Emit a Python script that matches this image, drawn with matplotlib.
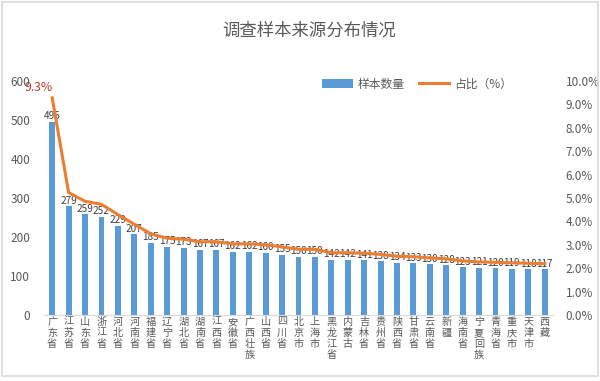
import matplotlib
matplotlib.use("Agg")
import matplotlib.pyplot as plt
from matplotlib.patches import Rectangle, Patch
from matplotlib.lines import Line2D
from matplotlib.ticker import FuncFormatter, MultipleLocator

plt.rcParams['font.family'] = ['Noto Sans CJK SC', 'DejaVu Sans']

categories = ["广东省", "江苏省", "山东省", "浙江省", "河北省", "河南省", "福建省", "辽宁省",
              "湖北省", "湖南省", "江西省", "安徽省", "广西壮族", "山西省", "四川省", "北京市",
              "上海市", "黑龙江省", "内蒙古", "吉林省", "贵州省", "陕西省", "甘肃省", "云南省",
              "新疆", "海南省", "宁夏回族", "青海省", "重庆市", "天津市", "西藏"]
counts = [495, 279, 259, 252, 229, 207, 185, 175, 173, 167, 167, 162, 162, 160, 155, 150,
          150, 142, 142, 141, 138, 134, 133, 130, 128, 123, 121, 120, 119, 118, 117]
share_pct = [9.28, 5.23, 4.86, 4.73, 4.29, 3.88, 3.47, 3.28, 3.24, 3.13, 3.13, 3.04, 3.04,
             3.00, 2.91, 2.81, 2.81, 2.66, 2.66, 2.64, 2.59, 2.51, 2.49, 2.44, 2.40, 2.31,
             2.27, 2.25, 2.23, 2.21, 2.19]
first_label = "9.3%"
title = "调查样本来源分布情况"
bar_name = "样本数量"
line_name = "占比（%）"

W, H = 600, 381
fig = plt.figure(figsize=(6, 3.81), dpi=100)
fig.patch.set_facecolor("white")
fig.add_artist(Rectangle((2 / W, 5 / H), 596 / W, 374 / H, transform=fig.transFigure,
                         fill=False, edgecolor="#d9d9d9", linewidth=1.2))

ax = fig.add_axes([44 / W, 1 - 315 / H, (553 - 44) / W, (315 - 81) / H])
ax2 = ax.twinx()

x = list(range(len(categories)))
ax.bar(x, counts, width=0.36, color="#5B9BD5", zorder=2)
ax.set_xlim(-0.5, len(categories) - 0.5)
ax.set_ylim(0, 600)
ax.yaxis.set_major_locator(MultipleLocator(100))
ax.set_xticks([])

ax2.plot(x, share_pct, color="#ED7D31", linewidth=2.2, zorder=3)
ax2.set_ylim(0, 10)
ax2.yaxis.set_major_locator(MultipleLocator(1))
ax2.yaxis.set_major_formatter(FuncFormatter(lambda v, p: f"{v:.1f}%"))

for a in (ax, ax2):
    for s in a.spines.values():
        s.set_visible(False)
    a.tick_params(axis="y", length=0, labelsize=8.5, labelcolor="#595959", pad=4)
ax.spines["bottom"].set_visible(True)
ax.spines["bottom"].set_color("#d9d9d9")
ax.tick_params(axis="y", pad=10)
ax2.tick_params(axis="y", pad=9)

for xi, c in zip(x, counts):
    ax.text(xi, c + 14, str(c), ha="center", va="center", fontsize=7.2, color="#404040", zorder=4)

ax2.text(-0.8, share_pct[0] + 0.45, first_label, ha="center", va="center", fontsize=8.8,
         color="#C0392B", zorder=5)

for xi, name in zip(x, categories):
    ax.text(xi, -5, "\n".join(name), ha="center", va="top", fontsize=7.3, color="#595959",
            linespacing=1.12)

fig.text(309 / W, 1 - 31 / H, title, ha="center", va="center", fontsize=12.5,
         color="#595959", fontweight="medium")

handles = [Patch(facecolor="#5B9BD5", edgecolor="none"),
           Line2D([0], [0], color="#ED7D31", linewidth=2.2)]
fig.legend(handles, [bar_name, line_name], loc="center", bbox_to_anchor=(417 / W, 1 - 84 / H),
           ncol=2, frameon=False, fontsize=8.5, labelcolor="#595959", handlelength=2.6,
           handleheight=0.7, columnspacing=1.2, handletextpad=0.4)

fig.savefig("out.png", dpi=100, facecolor="white")
